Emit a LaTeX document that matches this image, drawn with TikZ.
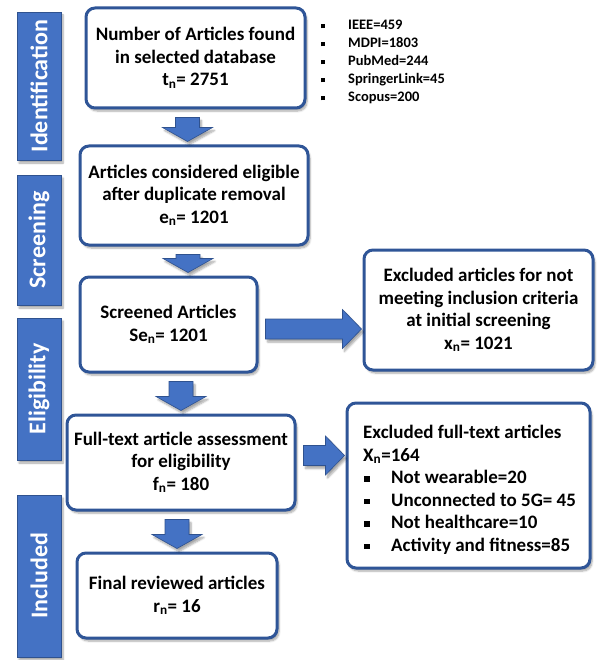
\documentclass[tikz,border=0pt]{standalone}
\usepackage{fontspec}
\setmainfont{Carlito}
\usetikzlibrary{shadows.blur,calc}

\definecolor{stageblue}{HTML}{4472C4}
\definecolor{edgeblue}{HTML}{2F5597}
\definecolor{arrowedge}{HTML}{2F528F}

% small square bullet
\newcommand{\sqb}{\raisebox{0.1em}{\rule{0.28em}{0.28em}}}

\tikzset{
  softshadow/.style={blur shadow={shadow xshift=2pt, shadow yshift=-3pt,
      shadow blur steps=6, shadow opacity=35}},
  flowbox/.style={draw=edgeblue, line width=3pt, rounded corners=9pt,
      fill=white, align=center, inner sep=0pt, softshadow,
      font=\fontsize{19}{22.5}\selectfont\bfseries},
  stagebar/.style={draw=arrowedge, line width=0.6pt, fill=stageblue,
      text=white, rotate=90, inner sep=0pt, minimum height=44pt, softshadow,
      font=\fontsize{24}{28}\selectfont\bfseries},
  blockarrow/.style={fill=stageblue, draw=arrowedge, line width=0.6pt,
      line join=miter, softshadow},
  listtext/.style={anchor=north west, align=left, inner sep=0pt}
}

% downward block arrow at x = #1 between node #2 (above) and node #3 (below)
\newcommand{\flowdown}[3]{%
  \filldraw[blockarrow] let \p1=(#2.south), \p2=(#3.north) in
    ({#1pt-12pt},{\y1-8pt}) -- ({#1pt+12pt},{\y1-8pt})
    -- ({#1pt+12pt},{\y2+17pt}) -- ({#1pt+25pt},{\y2+17pt})
    -- ({#1pt},{\y2+3pt})
    -- ({#1pt-25pt},{\y2+17pt}) -- ({#1pt-12pt},{\y2+17pt}) -- cycle;}

% rightward block arrow at y = #1 between node #2 (left) and node #3 (right)
\newcommand{\flowright}[3]{%
  \filldraw[blockarrow] let \p1=(#2.east), \p2=(#3.west) in
    ({\x1+7pt},{-#1pt+10pt}) -- ({\x2-20pt},{-#1pt+10pt})
    -- ({\x2-20pt},{-#1pt+19.5pt}) -- ({\x2-1pt},{-#1pt})
    -- ({\x2-20pt},{-#1pt-19.5pt}) -- ({\x2-20pt},{-#1pt-10pt})
    -- ({\x1+7pt},{-#1pt-10pt}) -- cycle;}

\begin{document}
\begin{tikzpicture}[x=1pt,y=-1pt]
\useasboundingbox (0,0) rectangle (596,660);

% stage bars
\node[stagebar, minimum width=148pt] (ident) at (39,86) {Identification};
\node[stagebar, minimum width=130pt] (screen) at (39,240) {Screening};
\node[stagebar, minimum width=142pt] (elig) at (39,389) {Eligibility};
\node[stagebar, minimum width=162pt] (incl) at (39,576) {Included};

% flow boxes
\node[flowbox, minimum width=219pt, minimum height=100pt] (found) at (195.5,58)
  {Number of Articles found\\in selected database\\t\textsubscript{n}= 2751};
\node[flowbox, minimum width=228pt, minimum height=99pt] (dedup) at (194,195.5)
  {Articles considered eligible\\after duplicate removal\\e\textsubscript{n}= 1201};
\node[flowbox, minimum width=177pt, minimum height=95pt] (screened) at (168.5,324.5)
  {Screened Articles\\Se\textsubscript{n}= 1201};
\node[flowbox, minimum width=229pt, minimum height=120pt] (excl) at (478.5,310)
  {Excluded articles for not\\meeting inclusion criteria\\at initial screening\\x\textsubscript{n}= 1021};
\node[flowbox, minimum width=228pt, minimum height=95pt] (fulltext) at (181,462.5)
  {Full-text article assessment\\for eligibility\\f\textsubscript{n}= 180};
\node[flowbox, minimum width=243pt, minimum height=165pt] (exclft) at (468.5,485.5) {};
\node[flowbox, minimum width=200pt, minimum height=85pt] (final) at (177,595.5)
  {Final reviewed articles\\r\textsubscript{n}= 16};

% database counts
\node[listtext, font=\fontsize{14.5}{18}\selectfont\bfseries] (sources) at (321,20)
  {\makebox[27pt][l]{\sqb}IEEE=459\\
   \makebox[27pt][l]{\sqb}MDPI=1803\\
   \makebox[27pt][l]{\sqb}PubMed=244\\
   \makebox[27pt][l]{\sqb}SpringerLink=45\\
   \makebox[27pt][l]{\sqb}Scopus=200};

% full-text exclusion reasons
\node[listtext, font=\fontsize{19}{22.5}\selectfont\bfseries] (reasons) at (363,425)
  {Excluded full-text articles\\
   X\textsubscript{n}=164\\
   \makebox[28pt][l]{\hspace{1pt}\sqb}Not wearable=20\\
   \makebox[28pt][l]{\hspace{1pt}\sqb}Unconnected to 5G= 45\\
   \makebox[28pt][l]{\hspace{1pt}\sqb}Not healthcare=10\\
   \makebox[28pt][l]{\hspace{1pt}\sqb}Activity and fitness=85};

% block arrows
\flowdown{187.5}{found}{dedup}
\flowdown{188}{dedup}{screened}
\flowdown{181}{screened}{fulltext}
\flowdown{177}{fulltext}{final}
\flowright{329}{screened}{excl}
\flowright{455.5}{fulltext}{exclft}
\end{tikzpicture}
\end{document}
